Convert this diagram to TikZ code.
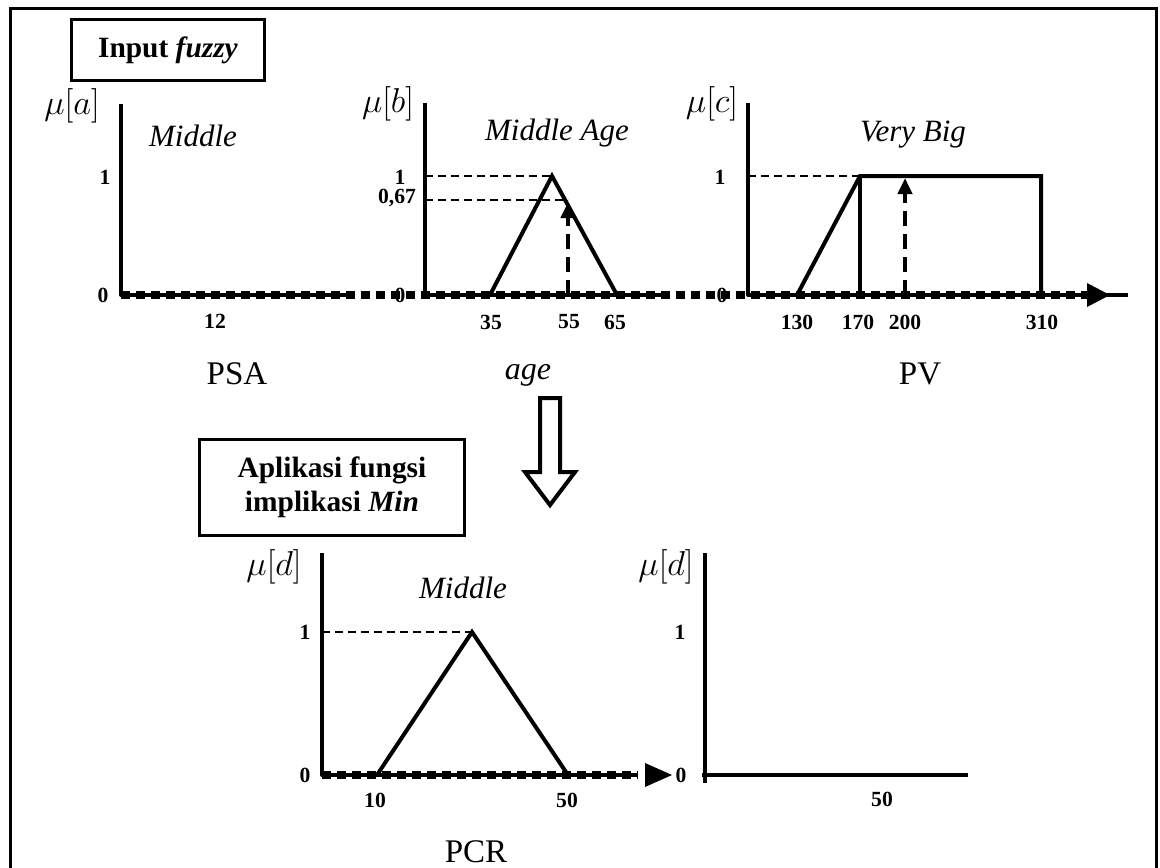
\documentclass[tikz,border=0pt]{standalone}
\usepackage{fontspec}
\setmainfont{Liberation Serif}
\usetikzlibrary{arrows.meta, positioning}

\begin{document}
\begin{tikzpicture}[
  x=0.5pt,y=-0.5pt,
  axisline/.style={line width=2pt,line join=round},
  mfline/.style={line width=2pt,line join=miter},
  sqdots/.style={line width=4pt,dash pattern=on 4.5pt off 3pt},
  guideline/.style={line width=0.7pt,dash pattern=on 4pt off 2.5pt},
  cutarrow/.style={line width=2pt,dash pattern=on 7.5pt off 4pt,
                   -{Triangle[length=8pt,width=7pt]}},
  ticklbl/.style={font=\fontsize{10.8}{12}\selectfont\bfseries,inner sep=1pt},
  mulbl/.style={font=\fontsize{16}{18}\selectfont,inner sep=0pt},
  setlbl/.style={font=\fontsize{15.5}{17}\selectfont\itshape,inner sep=0pt},
  varlbl/.style={font=\fontsize{16.5}{18}\selectfont,inner sep=0pt},
  stagebox/.style={draw,line width=1.5pt,align=center,
                   font=\fontsize{14.7}{17}\selectfont\bfseries}
]
  \useasboundingbox (0,0) rectangle (1160,867);
  \draw[line width=1.5pt] (10,8) rectangle (1156,900);

  % Stage 1 — Input fuzzy
  \node[stagebox,minimum width=96.5pt,minimum height=30.5pt] (inbox) at (168,50)
    {Input \textit{fuzzy}};

  % Chart A — PSA
  \draw[axisline] (121,104) |- (350,295);
  \node[mulbl] (muA) at (72,106) {$\mu[a]$};
  \node[setlbl] (setA) at (193,136) {Middle};
  \node[ticklbl] (oneA) at (105,177) {1};
  \node[ticklbl] (zeroA) at (103,295) {0};
  \node[ticklbl] (xA1) at (215,321) {12};
  \node[varlbl] (varA) at (237,374) {PSA};

  % Chart B — age
  \draw[axisline] (425,103) |- (663,295);
  \draw[guideline] (425,176) -- (552,176);
  \draw[guideline] (425,200) -- (568,200);
  \draw[mfline] (490,295) -- (552,176) -- (617,295);
  \draw[cutarrow] (568,295) -- (568,202);
  \node[mulbl] (muB) at (388,104) {$\mu[b]$};
  \node[setlbl] (setB) at (557,133) {Middle Age};
  \node[ticklbl] (oneB) at (400,177) {1};
  \node[ticklbl] (cutB) at (397,198) {0,67};
  \node[ticklbl] (zeroB) at (400,295) {0};
  \node[ticklbl] (xB1) at (491,322) {35};
  \node[ticklbl] (xB2) at (569,322) {55};
  \node[ticklbl] (xB3) at (615,322) {65};
  \node[varlbl,font=\fontsize{16}{18}\selectfont\itshape] (varB) at (528,375) {age};

  % Chart C — PV
  \draw[axisline] (748,103) |- (1128,295);
  \draw[guideline] (748,176) -- (860,176);
  \draw[mfline] (797,295) -- (860,176) -- (1041,176) -- (1041,295);
  \draw[mfline] (860,176) -- (860,295);
  \draw[cutarrow] (905,295) -- (905,178);
  \node[mulbl] (muC) at (712,104) {$\mu[c]$};
  \node[setlbl] (setC) at (913,135) {Very Big};
  \node[ticklbl] (oneC) at (720,177) {1};
  \node[ticklbl] (zeroC) at (722,295) {0};
  \node[ticklbl] (xC1) at (797,322) {130};
  \node[ticklbl] (xC2) at (858,322) {170};
  \node[ticklbl] (xC3) at (905,322) {200};
  \node[ticklbl] (xC4) at (1042,322) {310};
  \node[varlbl] (varC) at (920,374) {PV};

  % dotted input axis
  \draw[sqdots] (121,295) -- (1087,295);
  \fill (1087,283) -- (1110,295) -- (1087,307) -- cycle;

  % Hollow arrow between stages
  \draw[line width=2pt,line join=miter]
    (540,398) -- (560,398) -- (560,472) -- (575,472) -- (550,505)
    -- (525,472) -- (540,472) -- cycle;

  % Stage 2 — implication
  \node[stagebox,minimum width=132.5pt,minimum height=48pt] (impbox) at (332,487)
    {Aplikasi fungsi\\implikasi \textit{Min}};

  % Chart D — PCR
  \draw[axisline] (322,553) |- (638,775);
  \draw[guideline] (322,632) -- (472,632);
  \draw[mfline] (377,775) -- (472,632) -- (568,775);
  \node[mulbl] (muD) at (274,567) {$\mu[d]$};
  \node[setlbl] (setD) at (463,588) {Middle};
  \node[ticklbl] (oneD) at (305,632) {1};
  \node[ticklbl] (zeroD) at (305,775) {0};
  \node[ticklbl] (xD1) at (375,800) {10};
  \node[ticklbl] (xD2) at (567,800) {50};
  \node[varlbl] (varD) at (476,852) {PCR};
  \draw[sqdots] (322,775) -- (638,775);
  \fill (645,763) -- (672,775) -- (645,787) -- cycle;

  % Chart E — result
  \draw[axisline] (705,553) -- (705,783);
  \draw[axisline] (702,775) -- (968,775);
  \node[mulbl] (muE) at (666,567) {$\mu[d]$};
  \node[ticklbl] (oneE) at (680,632) {1};
  \node[ticklbl] (zeroE) at (681,775) {0};
  \node[ticklbl] (xE1) at (882,799) {50};
\end{tikzpicture}
\end{document}
